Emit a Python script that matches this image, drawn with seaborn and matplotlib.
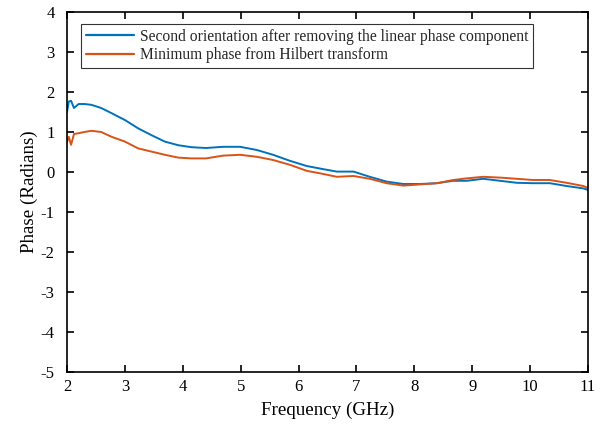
import matplotlib
matplotlib.use("Agg")
import matplotlib.pyplot as plt
import seaborn as sns
import pandas as pd

# Frequency samples (GHz)
freq_ghz = [2.00, 2.03, 2.07, 2.12, 2.20, 2.30, 2.42, 2.59, 2.77, 3.00,
            3.23, 3.46, 3.69, 3.92, 4.15, 4.40, 4.70, 4.99, 5.28, 5.56,
            5.85, 6.14, 6.43, 6.66, 6.95, 7.23, 7.52, 7.81, 8.10, 8.39,
            8.67, 8.90, 9.19, 9.48, 9.77, 10.05, 10.34, 10.63, 10.92, 11.00]

# Phase of the second orientation with the linear phase term removed (rad)
phase_second = [1.50, 1.76, 1.78, 1.60, 1.70, 1.70, 1.68, 1.60, 1.47, 1.30,
                1.09, 0.92, 0.76, 0.67, 0.62, 0.60, 0.63, 0.63, 0.55, 0.43,
                0.28, 0.15, 0.07, 0.01, 0.01, -0.12, -0.24, -0.30, -0.30, -0.28,
                -0.22, -0.22, -0.17, -0.22, -0.27, -0.28, -0.28, -0.35, -0.41, -0.45]

# Minimum phase obtained via the Hilbert transform (rad)
phase_minimum = [0.75, 0.88, 0.68, 0.95, 0.97, 1.00, 1.03, 1.00, 0.88, 0.76,
                 0.59, 0.51, 0.43, 0.36, 0.34, 0.34, 0.41, 0.43, 0.38, 0.30,
                 0.18, 0.03, -0.05, -0.12, -0.10, -0.17, -0.28, -0.34, -0.31, -0.28,
                 -0.20, -0.16, -0.12, -0.14, -0.17, -0.20, -0.20, -0.27, -0.35, -0.40]

series_names = ["Second orientation after removing the linear phase component",
                "Minimum phase from Hilbert transform"]
x_ticks = [2, 3, 4, 5, 6, 7, 8, 9, 10, 11]
y_ticks = [-5, -4, -3, -2, -1, 0, 1, 2, 3, 4]

df = pd.concat([
    pd.DataFrame({"freq": freq_ghz, "phase": phase_second, "series": series_names[0]}),
    pd.DataFrame({"freq": freq_ghz, "phase": phase_minimum, "series": series_names[1]}),
], ignore_index=True)

sns.set_theme(style="white")
plt.rcParams["font.family"] = ["Liberation Serif", "DejaVu Serif"]
plt.rcParams["axes.unicode_minus"] = False

fig = plt.figure(figsize=(6.0, 4.26), dpi=100)
ax = fig.add_axes([0.1117, 0.1268, 0.8683, 0.845])

sns.lineplot(data=df, x="freq", y="phase", hue="series", hue_order=series_names,
             palette=["#0072BD", "#D95319"], linewidth=1.4, ax=ax, sort=False)

ax.set_xlim(2, 11)
ax.set_ylim(-5, 4)
ax.set_xticks(x_ticks)
ax.set_yticks(y_ticks)
ax.set_xticklabels([str(t) for t in x_ticks])
ax.set_yticklabels([str(t) for t in y_ticks])
ax.tick_params(direction="in", length=5, width=1.2, labelsize=12, colors="black",
               top=True, right=True, bottom=True, left=True)
ax.tick_params(axis="y", pad=9)
ax.tick_params(axis="x", pad=5)
for side in ax.spines.values():
    side.set_visible(True)
    side.set_color("black")
    side.set_linewidth(1.2)

ax.set_xlabel("Frequency (GHz)", fontsize=13.7, color="black", labelpad=5)
ax.set_ylabel("Phase (Radians)", fontsize=13.7, color="black", labelpad=2)

leg = ax.legend(loc="upper left", bbox_to_anchor=(0.027, 0.967), borderaxespad=0,
                fontsize=11.2, frameon=True, fancybox=False, handlelength=3.1,
                handletextpad=0.4, labelspacing=0.18, borderpad=0.3, title=None)
leg.get_frame().set_edgecolor("black")
leg.get_frame().set_linewidth(0.8)
for line in leg.get_lines():
    line.set_linewidth(1.6)

fig.savefig("out.png", dpi=100)
